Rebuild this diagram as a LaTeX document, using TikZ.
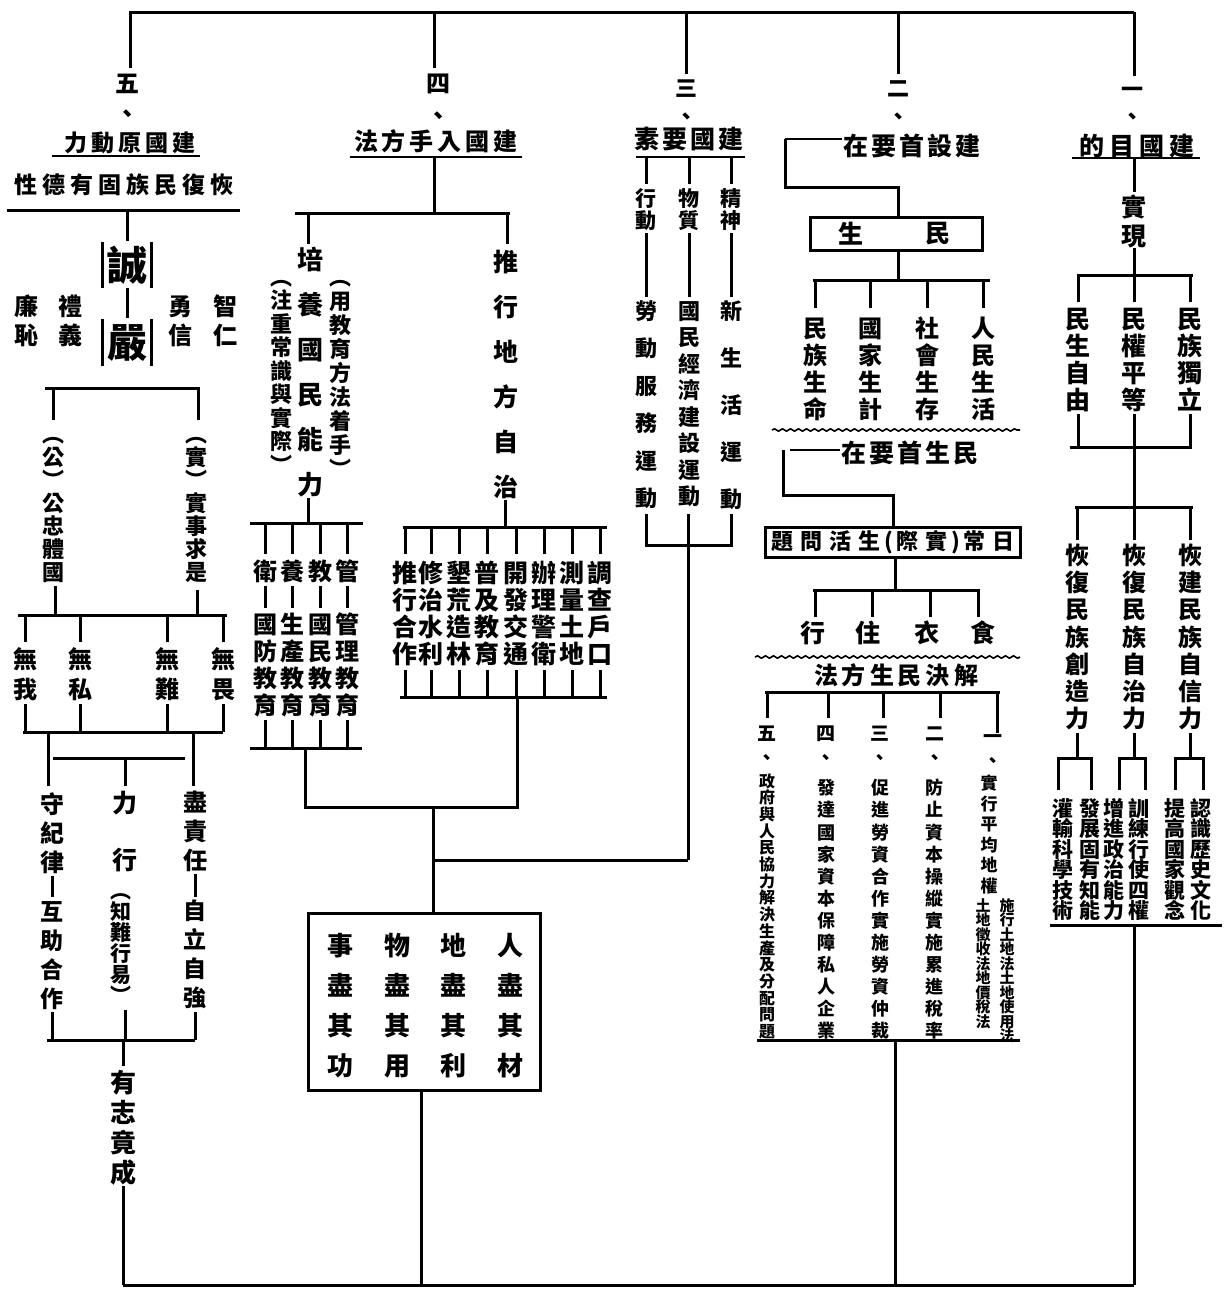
\documentclass[tikz,border=0pt]{standalone}
\usepackage{fontspec}
\newfontfamily\cjk{Noto Sans CJK TC}
\usetikzlibrary{decorations.pathmorphing}
\makeatletter
\def\vt@loop#1{\ifx#1\@nil\else\hbox to 1em{\vrule height .88em depth .12em width 0pt\hss#1\hss}\expandafter\vt@loop\fi}
\newcommand\vtx[2]{\vbox{\baselineskip=#1pt\lineskiplimit=-1000pt\lineskip=0pt\edef\vt@l{#2}\expandafter\vt@loop\vt@l\@nil}}
\def\ht@loop#1{\ifx#1\@nil\else\hbox to \ht@w{\vrule height .88em depth .12em width 0pt\hss#1\hss}\expandafter\ht@loop\fi}
\newdimen\ht@w
\newcommand\htx[2]{\ht@w=#1pt\edef\ht@l{#2}\expandafter\ht@loop\ht@l\@nil}
\makeatother
\tikzset{
  ln/.style={line width=3pt},
  lt/.style={line width=2pt},
  tx/.style={inner sep=0pt,outer sep=0pt,font=\cjk\bfseries\fontsize{#1}{#1}\selectfont},
  vt/.style={tx=#1,anchor=north},
  wave/.style={line width=1.6pt,decorate,decoration={snake,amplitude=1.2pt,segment length=8pt}},
}
\begin{document}
\begin{tikzpicture}[x=1pt,y=-1pt]
\useasboundingbox (0,0) rectangle (1224,1293);
\fill[white] (0,0) rectangle (1224,1293);
% ---------- top bar ----------
\draw[ln] (129,12) -- (1134,12);
\draw[ln] (123,1285) -- (1134,1285);
% ================= column 5 =================
\draw[ln] (130,12) -- (130,68);
\node[vt=24] (n5) at (127,71) {\vtx{30}{五、}};
\node[tx=23] (t5) at (130,143) {\htx{27}{力動原國建}};
\draw[lt] (52,156) -- (200,156);
\node[tx=23] (t5b) at (124,185) {\htx{28}{性德有固族民復恢}};
\draw[ln] (7,210) -- (240,210);
\draw[ln] (127,210) -- (127,241);
\node[tx=40] (cheng) at (127,265) {誠};
\draw[ln] (102,242) -- (102,288) (151,242) -- (151,288);
\draw[ln] (127,288) -- (127,318);
\node[tx=40] (yan) at (127,343) {嚴};
\draw[ln] (102,319) -- (102,366) (151,319) -- (151,366);
\node[vt=24] (lian) at (26,294) {\vtx{29}{廉恥}};
\node[vt=24] (liyi) at (70,294) {\vtx{29}{禮義}};
\node[vt=24] (yong) at (180,294) {\vtx{29}{勇信}};
\node[vt=24] (zhi) at (225,294) {\vtx{29}{智仁}};
\draw[ln] (45,388) -- (200,388);
\draw[ln] (53,388) -- (53,420) (198,388) -- (198,420);
\node[vt=22] (gong) at (53,423) {\vtx{23}{︵公︶公忠體國}};
\node[vt=22] (shi) at (196,423) {\vtx{23}{︵實︶實事求是}};
\draw[ln] (55,586) -- (55,615) (197,590) -- (197,615);
\draw[ln] (18,615) -- (227,615);
\foreach \x/\t in {25/無我,80/無私,167/無難,223/無畏}{
  \draw[ln] (\x,615) -- (\x,642);
  \node[vt=24] (w\x) at (\x,647) {\vtx{30}{\t}};
  \draw[ln] (\x,704) -- (\x,732);
}
\draw[ln] (23,732) -- (223,732);
\draw[ln] (48,732) -- (48,786) (193,732) -- (193,786);
\draw[ln] (53,758) -- (185,758);
\draw[ln] (125,758) -- (125,786);
\node[vt=24] (shou) at (52,792) {\vtx{29}{守紀律}};
\draw[ln] (52,876) -- (52,897);
\node[vt=23] (huzhu) at (52,900) {\vtx{29}{互助合作}};
\draw[ln] (52,1012) -- (52,1040);
\node[vt=25] (lixing1) at (125,790) {\vtx{28}{力}};
\node[vt=25] (lixing2) at (125,847) {\vtx{28}{行}};
\node[vt=21] (zhinan) at (121,880) {\vtx{21}{︵知難行易︶}};
\draw[ln] (125,1010) -- (125,1040);
\node[vt=24] (jinze) at (195,790) {\vtx{29}{盡責任}};
\draw[ln] (195,874) -- (195,897);
\node[vt=23] (zili) at (195,899) {\vtx{29}{自立自強}};
\draw[ln] (195,1012) -- (195,1040);
\draw[ln] (47,1040) -- (195,1040);
\draw[ln] (123,1040) -- (123,1066);
\node[vt=26] (youzhi) at (123,1070) {\vtx{30}{有志竟成}};
\draw[ln] (123,1186) -- (123,1285);
% ================= column 4 =================
\draw[ln] (434,12) -- (434,68);
\node[vt=24] (n4) at (438,71) {\vtx{32}{四、}};
\node[tx=24] (t4) at (436,141) {\htx{28}{法方手入國建}};
\draw[lt] (350,157) -- (522,157);
\draw[ln] (434,157) -- (434,213);
\draw[ln] (295,213) -- (510,213);
\draw[ln] (308,213) -- (308,244) (507,213) -- (507,244);
\node[vt=26] (peiyang) at (310,247) {\vtx{45}{培養國民能力}};
\node[vt=22] (yongjy) at (340,266) {\vtx{24}{︵用教育方法着手︶}};
\node[vt=22] (zhuzhong) at (281,266) {\vtx{23.5}{︵注重常識與實際︶}};
\draw[ln] (308,498) -- (308,523);
\draw[ln] (250,523) -- (363,523);
\foreach \x/\a/\b in {265/衛/國防教育,292/養/生產教育,320/教/國民教育,347/管/管理教育}{
  \draw[ln] (\x,523) -- (\x,554);
  \node[vt=24] (a\x) at (\x,559) {\vtx{27}{\a}};
  \draw[ln] (\x,586) -- (\x,608);
  \node[vt=24] (b\x) at (\x,612) {\vtx{27}{\b}};
  \draw[ln] (\x,720) -- (\x,748);
}
\draw[ln] (250,748) -- (362,748);
\node[vt=25] (tuixing) at (506,249) {\vtx{45}{推行地方自治}};
\draw[ln] (505,500) -- (505,527);
\draw[ln] (403,527) -- (607,527);
\foreach \x/\t in {405/推行合作,431/修治水利,459/墾荒造林,487/普及教育,516/開發交通,544/辦理警衛,572/測量土地,600/調查戶口}{
  \draw[ln] (\x,527) -- (\x,554);
  \node[vt=25] (c\x) at (\x,560) {\vtx{27}{\t}};
  \draw[ln] (\x,670) -- (\x,697);
}
\draw[ln] (400,697) -- (607,697);
\draw[ln] (305,748) -- (305,807) -- (517,807) -- (517,697);
\draw[ln] (433,807) -- (433,913);
\draw[ln] (433,860) -- (688,860);
\draw[ln] (308,913) rectangle (540,1090);
\foreach \x/\t in {340/事盡其功,397/物盡其用,453/地盡其利,510/人盡其材}{
  \node[vt=26] (d\x) at (\x,933) {\vtx{40}{\t}};
}
\draw[ln] (421,1090) -- (421,1285);
% ================= column 3 =================
\draw[ln] (686,12) -- (686,74);
\node[vt=22] (n3) at (686,77) {\vtx{28}{三、}};
\node[tx=25] (t3) at (689,139) {\htx{28}{素要國建}};
\draw[lt] (636,157) -- (745,157);
\foreach \x/\t in {646/行動,689/物質,731/精神}{
  \draw[ln] (\x,157) -- (\x,184);
  \node[vt=21] (e\x) at (\x,188) {\vtx{22}{\t}};
  \draw[ln] (\x,233) -- (\x,297);
}
\node[vt=22] (laodong) at (646,300) {\vtx{37.5}{勞動服務運動}};
\node[vt=22] (guomin) at (689,300) {\vtx{26.5}{國民經濟建設運動}};
\node[vt=22] (xinsh) at (731,300) {\vtx{47}{新生活運動}};
\draw[ln] (646,514) -- (646,545) -- (731,545) -- (731,514);
\draw[ln] (688,514) -- (688,860);
% ================= column 2 =================
\draw[ln] (898,12) -- (898,74);
\node[vt=22] (n2) at (898,77) {\vtx{28}{二、}};
\node[tx=25] (t2) at (912,146) {\htx{28}{在要首設建}};
\draw[lt] (785,139) -- (842,139);
\draw[ln] (785,139) -- (785,187) -- (898,187) -- (898,217);
\draw[ln] (810,217) rectangle (982,250);
\node[tx=25] (sheng) at (851,234) {生};
\node[tx=25] (min) at (938,234) {民};
\draw[ln] (898,250) -- (898,280);
\draw[ln] (813,280) -- (990,280);
\foreach \x/\t in {815/民族生命,870/國家生計,927/社會生存,983/人民生活}{
  \draw[ln] (\x,280) -- (\x,308);
  \node[vt=24] (f\x) at (\x,316) {\vtx{27}{\t}};
}
\draw[wave] (772,430) -- (1020,430);
\node[tx=25] (t2b) at (910,453) {\htx{28}{在要首生民}};
\draw[lt] (790,450) -- (840,450);
\draw[ln] (783,450) -- (783,495) -- (893,495) -- (893,527);
\draw[ln] (765,527) rectangle (1020,557);
\node[tx=22] (t2c) at (893,542) {\htx{29}{題問活生}(\htx{29}{際實})\htx{29}{常日}};
\draw[ln] (895,557) -- (895,590);
\draw[ln] (813,590) -- (980,590);
\foreach \x/\y/\t in {815/813/行,872/868/住,930/927/衣,978/983/食}{
  \draw[ln] (\x,590) -- (\x,617);
  \node[tx=25] (g\x) at (\y,633) {\t};
}
\draw[wave] (755,657) -- (1020,657);
\node[tx=24] (t2d) at (896,675) {\htx{28}{法方生民決解}};
\draw[ln] (765,692) -- (1000,692);
\draw[ln] (767,692) -- (767,718) (828,692) -- (828,718) (883,692) -- (883,718) (940,692) -- (940,718) (997,692) -- (997,733);
\node[vt=19] (h5n) at (767,724) {\vtx{24}{五、}};
\node[vt=16] (h5) at (767,773) {\vtx{16.7}{政府與人民協力解決生產及分配問題}};
\node[vt=19] (h4n) at (826,724) {\vtx{24}{四、}};
\node[vt=18] (h4) at (826,779) {\vtx{22.1}{發達國家資本保障私人企業}};
\node[vt=19] (h3n) at (880,724) {\vtx{24}{三、}};
\node[vt=18] (h3) at (880,779) {\vtx{22.1}{促進勞資合作實施勞資仲裁}};
\node[vt=19] (h2n) at (935,724) {\vtx{24}{二、}};
\node[vt=18] (h2) at (934,779) {\vtx{22.1}{防止資本操縱實施累進稅率}};
\node[vt=19] (h1n) at (993,727) {\vtx{24}{一、}};
\node[vt=17] (h1) at (989,775) {\vtx{20.5}{實行平均地權}};
\node[vt=15] (h1a) at (983,898) {\vtx{14.5}{土地徵收法地價稅法}};
\node[vt=15] (h1b) at (1007,898) {\vtx{14.5}{施行土地法土地使用法}};
\draw[ln] (757,1040) -- (1020,1040);
\draw[ln] (895,1040) -- (895,1285);
% ================= column 1 =================
\draw[ln] (1134,12) -- (1134,76);
\node[vt=22] (n1) at (1132,78) {\vtx{27}{一、}};
\node[tx=25] (t1) at (1137,146) {\htx{30}{的目國建}};
\draw[lt] (1072,158) -- (1200,158);
\draw[ln] (1134,158) -- (1134,192);
\node[vt=25] (shixian) at (1134,194) {\vtx{29}{實現}};
\draw[ln] (1134,248) -- (1134,275);
\draw[ln] (1077,275) -- (1193,275);
\foreach \x/\t in {1078/民生自由,1134/民權平等,1190/民族獨立}{
  \draw[ln] (\x,275) -- (\x,302);
  \node[vt=25] (k\x) at (\x,306) {\vtx{27}{\t}};
  \draw[ln] (\x,414) -- (\x,447);
}
\draw[ln] (1070,447) -- (1192,447);
\draw[ln] (1134,447) -- (1134,507);
\draw[ln] (1075,507) -- (1193,507);
\foreach \x/\t in {1077/恢復民族創造力,1134/恢復民族自治力,1190/恢建民族自信力}{
  \draw[ln] (\x,507) -- (\x,540);
  \node[vt=24] (r\x) at (\x,543) {\vtx{27.3}{\t}};
  \draw[ln] (\x,733) -- (\x,758);
}
\draw[ln] (1058,790) -- (1058,758) -- (1091,758) -- (1091,790);
\draw[ln] (1119,790) -- (1119,758) -- (1145,758) -- (1145,790);
\draw[ln] (1175,790) -- (1175,758) -- (1203,758) -- (1203,790);
\foreach \x/\t in {1063/灌輸科學技術,1090/發展固有知能,1114/增進政治能力,1139/訓練行使四權,1175/提高國家觀念,1201/認識歷史文化}{
  \node[vt=21] (s\x) at (\x,798) {\vtx{20.5}{\t}};
}
\draw[ln] (1050,925) -- (1222,925);
\draw[ln] (1134,925) -- (1134,1285);
\end{tikzpicture}
\end{document}
